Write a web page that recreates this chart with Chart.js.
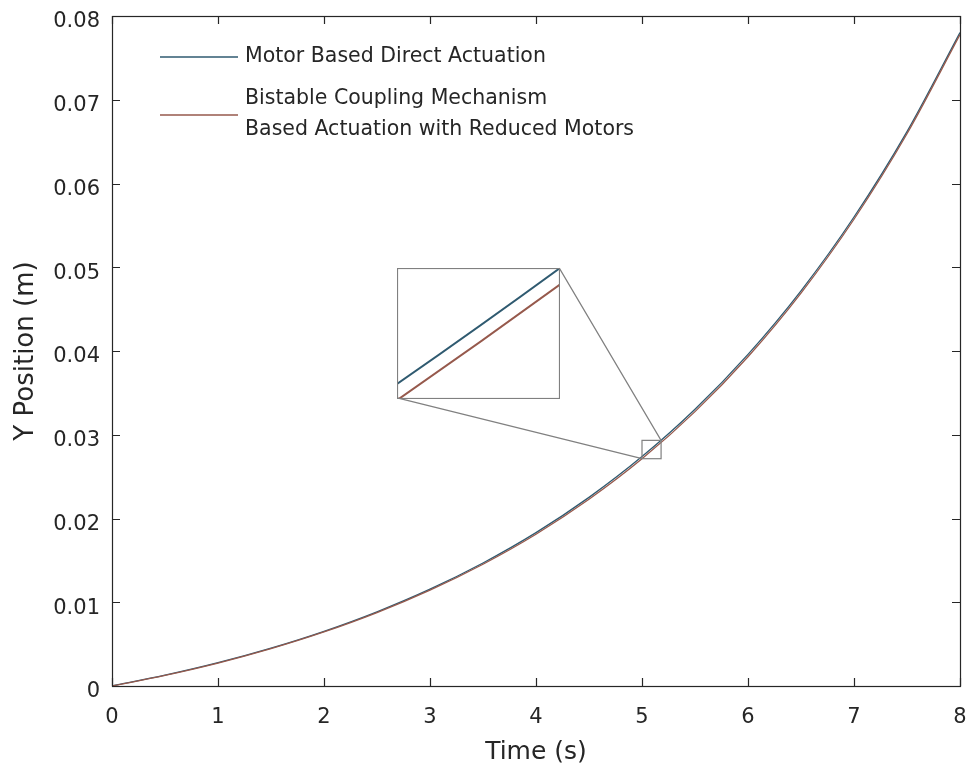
<!DOCTYPE html>
<html>
<head>
<meta charset="utf-8">
<script src="https://cdn.jsdelivr.net/npm/chart.js@4.4.1/dist/chart.umd.min.js"></script>
<style>
  html, body { margin: 0; padding: 0; background: #fff; }
  #wrap { position: relative; width: 970px; height: 771px; }
  #inset { position: absolute; }
</style>
</head>
<body>
<div id="wrap">
  <canvas id="main" width="970" height="771"></canvas>
  <canvas id="inset"></canvas>
</div>
<script>
// time samples (s) and Y position of the end effector (m)
const timeS    = [0, 0.5, 1, 1.5, 2, 2.5, 3, 3.5, 4, 4.5, 5, 5.5, 6, 6.5, 7, 7.5, 8];
const directY  = [0, 0.00129, 0.00278, 0.00452, 0.00653, 0.00886, 0.01156, 0.01469, 0.01831,
                  0.02252, 0.02739, 0.03304, 0.03960, 0.04719, 0.05600, 0.06620, 0.07803];
const coupledY = [0, 0.00127, 0.00274, 0.00446, 0.00645, 0.00876, 0.01144, 0.01454, 0.01812,
                  0.02229, 0.02712, 0.03276, 0.03932, 0.04692, 0.05573, 0.06594, 0.07778];

const xTicks = [0, 1, 2, 3, 4, 5, 6, 7, 8];
const yTicks = [0, 0.01, 0.02, 0.03, 0.04, 0.05, 0.06, 0.07, 0.08];

const seriesNames = [
  'Motor Based Direct Actuation',
  ['Bistable Coupling Mechanism', 'Based Actuation with Reduced Motors']
];

// magnified window around t = 5 s
const zoomTime = [5.0, 5.18];
const zoomY = [0.02714, 0.02933];
// where the magnified axes are placed, in main axes units
const insetTime = [2.69, 4.22];
const insetY = [0.0344, 0.0499];

const FONT = '"DejaVu Sans", "Liberation Sans", sans-serif';
const INK = '#262626';
const FRAME = '#808080';
const BLUE = '#2f5a70';
const RED = '#96594c';

function pts(ys) {
  return timeS.map((t, i) => ({ x: t, y: ys[i] }));
}

function makeDatasets(width) {
  return [
    { label: seriesNames[0], data: pts(directY), borderColor: BLUE, borderWidth: width, order: 1 },
    { label: seriesNames[1], data: pts(coupledY), borderColor: RED, borderWidth: width, order: 0 }
  ];
}

// box round the plot with inward ticks on all four sides
const boxAxes = {
  id: 'boxAxes',
  afterDatasetsDraw(chart) {
    const { ctx, chartArea: a, scales: { x, y } } = chart;
    const len = 8;
    ctx.save();
    ctx.strokeStyle = INK;
    ctx.lineWidth = 1.2;
    ctx.strokeRect(a.left + 0.5, a.top + 0.5, a.right - a.left, a.bottom - a.top);
    ctx.beginPath();
    xTicks.forEach(v => {
      const px = Math.round(x.getPixelForValue(v)) + 0.5;
      ctx.moveTo(px, a.bottom); ctx.lineTo(px, a.bottom - len);
      ctx.moveTo(px, a.top); ctx.lineTo(px, a.top + len);
    });
    yTicks.forEach(v => {
      const py = Math.round(y.getPixelForValue(v)) + 0.5;
      ctx.moveTo(a.left, py); ctx.lineTo(a.left + len, py);
      ctx.moveTo(a.right, py); ctx.lineTo(a.right - len, py);
    });
    ctx.stroke();
    ctx.restore();
  }
};

// zoom rectangle on the curve and the two lines to the magnified axes
const zoomMarks = {
  id: 'zoomMarks',
  afterDatasetsDraw(chart) {
    const { ctx, scales: { x, y } } = chart;
    const zx0 = x.getPixelForValue(zoomTime[0]), zx1 = x.getPixelForValue(zoomTime[1]);
    const zy0 = y.getPixelForValue(zoomY[0]), zy1 = y.getPixelForValue(zoomY[1]);
    const ix0 = x.getPixelForValue(insetTime[0]), ix1 = x.getPixelForValue(insetTime[1]);
    const iy0 = y.getPixelForValue(insetY[0]), iy1 = y.getPixelForValue(insetY[1]);
    ctx.save();
    ctx.strokeStyle = FRAME;
    ctx.lineWidth = 1.2;
    ctx.strokeRect(zx0, zy1, zx1 - zx0, zy0 - zy1);
    ctx.beginPath();
    ctx.moveTo(ix0, iy0); ctx.lineTo(zx0, zy0);
    ctx.moveTo(ix1, iy1); ctx.lineTo(zx1, zy1);
    ctx.stroke();
    ctx.restore();
  }
};

// legend without a box, second entry on two lines
const lineLegend = {
  id: 'lineLegend',
  afterDraw(chart) {
    const { ctx } = chart;
    const rows = [{ lineY: 57, textY: [57] }, { lineY: 115, textY: [99, 130] }];
    ctx.save();
    ctx.font = '20.5px ' + FONT;
    ctx.textBaseline = 'middle';
    ctx.fillStyle = INK;
    chart.data.datasets.forEach((ds, i) => {
      const r = rows[i];
      ctx.strokeStyle = ds.borderColor;
      ctx.lineWidth = 1.5;
      ctx.beginPath();
      ctx.moveTo(160, r.lineY); ctx.lineTo(238, r.lineY);
      ctx.stroke();
      const lines = Array.isArray(ds.label) ? ds.label : [ds.label];
      lines.forEach((s, k) => ctx.fillText(s, 245, r.textY[k]));
    });
    ctx.restore();
  }
};

const mainChart = new Chart(document.getElementById('main'), {
  type: 'line',
  data: { datasets: makeDatasets(1.3) },
  options: {
    responsive: false,
    animation: false,
    events: [],
    layout: { padding: { left: 0, right: 10, top: 16, bottom: 0 } },
    elements: { point: { radius: 0 }, line: { cubicInterpolationMode: 'monotone' } },
    scales: {
      x: {
        type: 'linear', min: 0, max: 8,
        afterBuildTicks(s) { s.ticks = xTicks.map(v => ({ value: v })); },
        afterFit(s) { s.height = 85; s.paddingLeft = 0; s.paddingRight = 0; },
        grid: { display: false, drawTicks: false },
        border: { display: false },
        ticks: { padding: 19, color: INK, font: { family: FONT, size: 21 }, maxRotation: 0,
                 callback: v => String(v) },
        title: { display: true, text: 'Time (s)', color: INK, font: { family: FONT, size: 25 },
                 padding: { top: 0, bottom: 4 } }
      },
      y: {
        type: 'linear', min: 0, max: 0.08,
        afterBuildTicks(s) { s.ticks = yTicks.map(v => ({ value: v })); },
        afterFit(s) { s.width = 112; s.paddingTop = 0; s.paddingBottom = 0; },
        grid: { display: false, drawTicks: false },
        border: { display: false },
        ticks: { padding: 12, labelOffset: 6, color: INK, font: { family: FONT, size: 21 },
                 callback: v => String(+v.toFixed(2)) },
        title: { display: true, text: 'Y Position (m)', color: INK, font: { family: FONT, size: 26 },
                 padding: { top: 11, bottom: 0 } }
      }
    },
    plugins: { legend: { display: false }, tooltip: { enabled: false } }
  },
  plugins: [boxAxes, zoomMarks, lineLegend]
});

// magnified axes, placed over the main plot
const sx = mainChart.scales.x, sy = mainChart.scales.y;
const insetLeft = Math.round(sx.getPixelForValue(insetTime[0]));
const insetRight = Math.round(sx.getPixelForValue(insetTime[1]));
const insetTop = Math.round(sy.getPixelForValue(insetY[1]));
const insetBottom = Math.round(sy.getPixelForValue(insetY[0]));
const insetCanvas = document.getElementById('inset');
insetCanvas.width = insetRight - insetLeft + 1;
insetCanvas.height = insetBottom - insetTop + 1;
insetCanvas.style.left = insetLeft + 'px';
insetCanvas.style.top = insetTop + 'px';

const insetFrame = {
  id: 'insetFrame',
  afterDatasetsDraw(chart) {
    const { ctx, width, height } = chart;
    ctx.save();
    ctx.strokeStyle = FRAME;
    ctx.lineWidth = 1.2;
    ctx.strokeRect(0.5, 0.5, width - 1, height - 1);
    ctx.restore();
  }
};

new Chart(insetCanvas, {
  type: 'line',
  data: { datasets: makeDatasets(2) },
  options: {
    responsive: false,
    animation: false,
    events: [],
    layout: { padding: 0 },
    elements: { point: { radius: 0 }, line: { cubicInterpolationMode: 'monotone' } },
    scales: {
      x: { type: 'linear', display: false, min: zoomTime[0], max: zoomTime[1] },
      y: { type: 'linear', display: false, min: zoomY[0], max: zoomY[1] }
    },
    plugins: { legend: { display: false }, tooltip: { enabled: false } }
  },
  plugins: [insetFrame]
});
</script>
</body>
</html>
